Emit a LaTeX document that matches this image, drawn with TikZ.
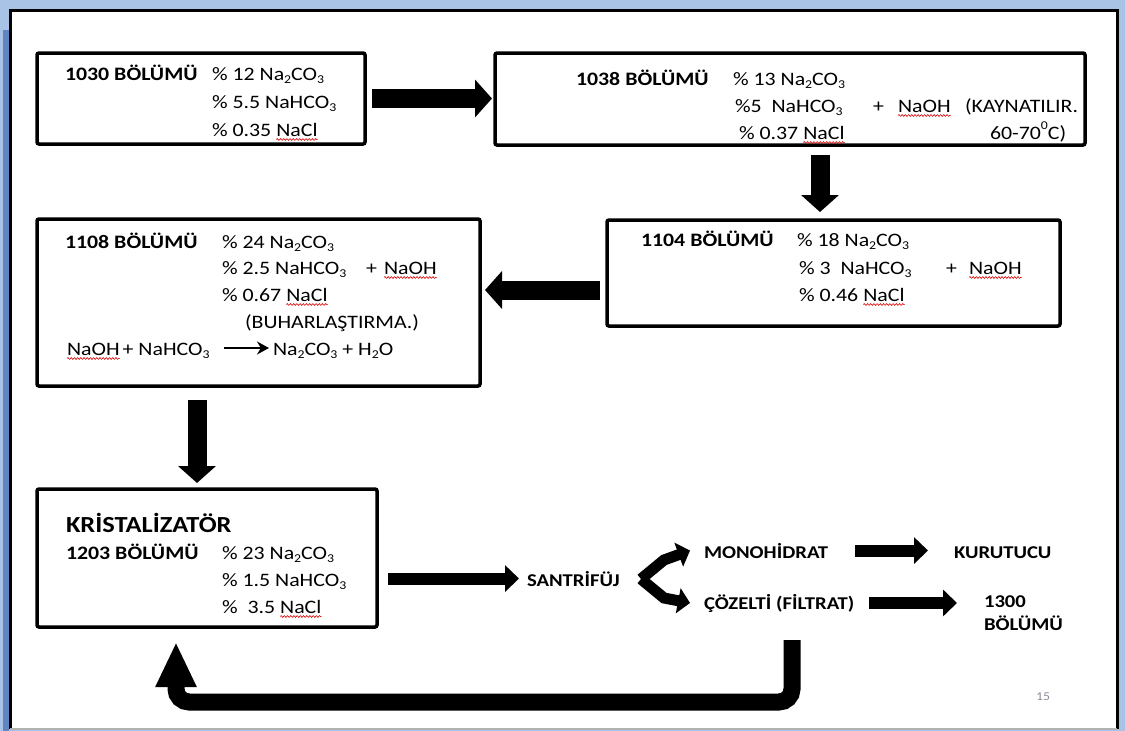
\documentclass[tikz,border=0pt]{standalone}
\usepackage{fontspec}
\setmainfont{Carlito}[FakeStretch=1.15]
\usetikzlibrary{arrows.meta,decorations.pathmorphing}
\definecolor{slideblue}{HTML}{A9C3E6}
\definecolor{stripblue}{HTML}{5F86C2}
\definecolor{pagegray}{HTML}{8A8F99}
\newcommand\sbs[1]{\raisebox{-0.2em}{\fontsize{12}{12}\selectfont#1}}
\newcommand\sups[1]{\raisebox{0.5em}{\fontsize{12}{12}\selectfont#1}}
\newcommand\squig[1]{\draw[squig] ([yshift=-3.5pt]#1.base west) -- ([yshift=-3.5pt]#1.base east);}
\begin{document}
\begin{tikzpicture}[x=1pt,y=-1pt,
  box/.style={draw, line width=3.5pt, rounded corners=2pt, inner sep=0pt, outer sep=0pt},
  tx/.style={inner sep=0pt, outer sep=0pt, anchor=base west, font=\fontsize{19}{22}\selectfont},
  bt/.style={tx, font=\fontsize{19}{22}\selectfont\bfseries},
  rt/.style={tx, font=\fontsize{18}{22}\selectfont\bfseries},
  fat/.style={line width=19pt, -{Triangle[length=17pt,width=37pt]}},
  med/.style={line width=12pt, -{Triangle[length=14pt,width=26pt]}},
  brk/.style={line width=11pt, line join=miter, -{Triangle[length=12pt,width=25pt]}},
  uarr/.style={line width=17pt, rounded corners=13pt, -{Triangle[length=45pt,width=38pt]}},
  rxn/.style={line width=2.8pt, -{Stealth[length=12pt,width=13pt]}},
  squig/.style={draw=red!85!black, line width=0.6pt, decorate,
    decoration={snake, amplitude=0.9pt, segment length=3.2pt}}]
\useasboundingbox (0,0) rectangle (1125,731);

% slide frame
\fill[slideblue] (0,0) rectangle (1125,731);
\fill[stripblue] (3,30) rectangle (9,731);
\fill[white] (10,10) rectangle (1117,729);
\draw[line width=3pt] (10,729) -- (10,10) -- (1117,10) -- (1117,729);
\draw[gray!60, line width=2pt] (10,729) -- (1117,729);

% process boxes
\node[box, minimum width=328pt, minimum height=91pt] (b1) at (201,98.5) {};
\node[box, minimum width=590pt, minimum height=92pt] (b2) at (790,99) {};
\node[box, minimum width=453pt, minimum height=106pt] (b3) at (833.5,273) {};
\node[box, minimum width=443pt, minimum height=167pt] (b4) at (258.5,302.5) {};
\node[box, minimum width=340pt, minimum height=138pt] (b5) at (207,558) {};

% 1030
\node[bt] (t1a) at (65,80) {1030 BÖLÜMÜ};
\node[tx] (t1b) at (212,80) {\% 12 Na\sbs2CO\sbs3};
\node[tx] (t1c) at (212,108) {\% 5.5 NaHCO\sbs3};
\node[tx] (t1d) at (212,136) {\% 0.35};
\node[tx] (t1e) at ([xshift=5pt]t1d.base east) {NaCl};
\squig{t1e}

% 1038
\node[bt] (t2a) at (576,85) {1038 BÖLÜMÜ};
\node[tx] (t2b) at (733,85) {\% 13 Na\sbs2CO\sbs3};
\node[tx] (t2c) at (735,112) {\%5 \ NaHCO\sbs3};
\node[tx] (t2d) at (873,112) {+};
\node[tx] (t2e) at (898,112) {NaOH};
\node[tx] (t2f) at (965,112) {(KAYNATILIR.};
\node[tx] (t2g) at (739,139) {\% 0.37};
\node[tx] (t2h) at ([xshift=5pt]t2g.base east) {NaCl};
\node[tx] (t2i) at (990,139) {60-70\sups0C)};
\squig{t2e}
\squig{t2h}

% 1104
\node[bt] (t3a) at (641,246) {1104 BÖLÜMÜ};
\node[tx] (t3b) at (797,246) {\% 18 Na\sbs2CO\sbs3};
\node[tx] (t3c) at (799,274) {\% 3 \ NaHCO\sbs3};
\node[tx] (t3d) at (946,274) {+};
\node[tx] (t3e) at (969,274) {NaOH};
\node[tx] (t3f) at (799,301) {\% 0.46};
\node[tx] (t3g) at ([xshift=5pt]t3f.base east) {NaCl};
\squig{t3e}
\squig{t3g}

% 1108
\node[bt] (t4a) at (65,248) {1108 BÖLÜMÜ};
\node[tx] (t4b) at (222,248) {\% 24 Na\sbs2CO\sbs3};
\node[tx] (t4c) at (222,274) {\% 2.5 NaHCO\sbs3};
\node[tx] (t4d) at (366,274) {+};
\node[tx] (t4e) at (384,274) {NaOH};
\node[tx] (t4f) at (222,301) {\% 0.67};
\node[tx] (t4g) at ([xshift=5pt]t4f.base east) {NaCl};
\node[tx] (t4h) at (245,328) {(BUHARLAŞTIRMA.)};
\node[tx] (t4i) at (67,355) {NaOH};
\node[tx] (t4j) at ([xshift=3pt]t4i.base east) {+ NaHCO\sbs3};
\node[tx] (t4k) at (273,355) {Na\sbs2CO\sbs3 + H\sbs2O};
\draw[rxn, shorten <=14pt, shorten >=4pt] ([yshift=7pt]t4j.base east) -- ([yshift=7pt]t4k.base west);
\squig{t4e}
\squig{t4g}
\squig{t4i}

% 1203
\node[tx, font=\fontsize{23}{26}\selectfont\bfseries] (t5a) at (66,532) {KRİSTALİZATÖR};
\node[bt] (t5b) at (66,559) {1203 BÖLÜMÜ};
\node[tx] (t5c) at (222,559) {\% 23 Na\sbs2CO\sbs3};
\node[tx] (t5d) at (222,586) {\% 1.5 NaHCO\sbs3};
\node[tx] (t5e) at (222,613) {\% \ 3.5};
\node[tx] (t5f) at ([xshift=5pt]t5e.base east) {NaCl};
\squig{t5f}

% separation stage
\node[rt] (san) at (527,586) {SANTRİFÜJ};
\node[rt] (mono) at (704,558) {MONOHİDRAT};
\node[rt] (kuru) at (954,558) {KURUTUCU};
\node[rt] (coz) at (704,609) {ÇÖZELTİ (FİLTRAT)};
\node[rt, anchor=north west, align=left, font=\fontsize{18}{23}\selectfont\bfseries] (b1300) at (984,596) {1300\\BÖLÜMÜ};

% flow arrows
\coordinate (d1) at (820,0);
\coordinate (l1) at (0,290);
\coordinate (d2) at (197,0);
\draw[fat, shorten <=7pt, shorten >=3pt] (b1.east) -- (b1.east -| b2.west);
\draw[fat, shorten <=10pt, shorten >=8pt] (b2.south -| d1) -- (b3.north -| d1);
\draw[fat, shorten <=7pt, shorten >=5pt] (b3.west |- l1) -- (b4.east |- l1);
\draw[fat, shorten <=14pt, shorten >=6pt] (b4.south -| d2) -- (b5.north -| d2);
\draw[med, shorten <=11pt, shorten >=8pt] (b5.east |- san.west) -- (san.west);

\coordinate (vtx) at (641,579);
\draw[brk] (vtx) -- (664,560) -- ([xshift=-14pt]mono.west);
\draw[brk] (vtx) -- (664,598) -- ([xshift=-14pt]coz.west);

\draw[med, shorten <=27pt, shorten >=26pt] (mono.east) -- (mono.east -| kuru.west);
\draw[med, shorten <=15pt, shorten >=27pt] (coz.east) -- (coz.east -| b1300.west);

% recycle loop back to the crystallizer
\coordinate (us) at (792,640);
\coordinate (ub) at (176,702);
\draw[uarr, shorten >=15pt] (us) -- (us |- ub) -- (ub) -- (ub |- b5.south);

% slide number
\node[font=\fontsize{12}{14}\selectfont, text=pagegray] (pg) at (1043,697) {15};
\end{tikzpicture}
\end{document}
